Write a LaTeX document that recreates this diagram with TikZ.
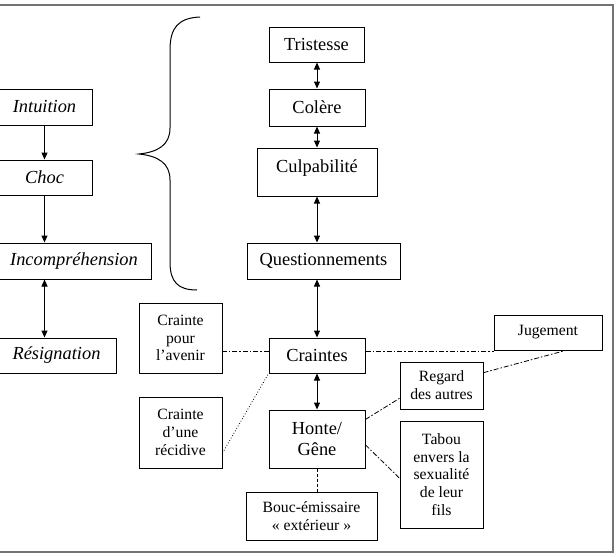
\documentclass[tikz,border=0pt]{standalone}
\usepackage{fontspec}
\setmainfont{Liberation Serif}
\usetikzlibrary{arrows.meta}

\begin{document}
\begin{tikzpicture}[x=1pt,y=-1pt,
  box/.style={draw,line width=1pt,inner sep=2pt,align=center,
    font=\fontsize{18.4}{21.7}\selectfont},
  stage/.style={box,font=\fontsize{18.4}{21.7}\selectfont\itshape},
  fear/.style={box,font=\fontsize{15.7}{17.8}\selectfont},
  link/.style={line width=1pt,<->,>={Triangle[length=7pt,width=6pt]}},
  relation/.style={line width=0.8pt,dash pattern=on 5pt off 2pt on 1.5pt off 2pt}]
  \useasboundingbox (0,0) rectangle (616,557);

  % Draw frame (open on the left)
  \draw [black!55,line width=1.6pt] (-5,5) -- (613,5) -- (613,552) -- (-5,552);

  % Draw left chain
  \node [stage,minimum width=95,minimum height=36] (intuition) at (44.5,107) {Intuition};
  \node [stage,minimum width=95,minimum height=35] (choc) at (44.5,177.5) {Choc};
  \node [stage,minimum width=154,minimum height=36] (incomp) at (74,261) {Incompréhension};
  \node [stage,minimum width=119,minimum height=35] (resig) at (56.5,355.5) {Résignation};

  \draw [line width=1pt,->,>={Triangle[length=7pt,width=6pt]}] (intuition) -- (choc);
  \draw [line width=1pt,->,>={Triangle[length=7pt,width=6pt]}] (choc.south) -- (choc.south |- incomp.north);
  \draw [link] (incomp.south -| choc.south) -- (resig.north -| choc.south);

  % Draw brace
  \draw [line width=1pt] (200,17) .. controls (178,18) and (170,28) .. (170,50)
    -- (170,128) .. controls (170,145) and (158,152) .. (139,154)
    .. controls (158,156) and (170,163) .. (170,180)
    -- (170,262) .. controls (170,282) and (178,290) .. (197,290);

  % Draw central column
  \node [box,minimum width=95,minimum height=35] (tristesse) at (316.5,44.5) {Tristesse};
  \node [box,minimum width=96,minimum height=37] (colere) at (317,107.5) {Colère};
  \node [box,minimum width=120,minimum height=48,text height=13pt,text depth=13pt] (culpa) at (317,172) {Culpabilité};
  \node [box,minimum width=153,minimum height=36] (quest) at (323.5,261) {Questionnements};
  \node [box,minimum width=96,minimum height=35] (craintes) at (317,355.5) {Craintes};
  \node [box,minimum width=96,minimum height=58] (honte) at (317,439) {Honte/\\Gêne};
  \node [fear,minimum width=131,minimum height=48] (bouc) at (311.5,516) {Bouc-émissaire\\«~extérieur~»};

  \draw [link] (tristesse.south -| colere.north) -- (colere.north);
  \draw [link] (colere) -- (culpa);
  \draw [link] (culpa.south) -- (culpa.south |- quest.north);
  \draw [link] (quest.south -| craintes.north) -- (craintes.north);
  \draw [link] (craintes) -- (honte);

  % Draw surrounding fears
  \node [fear,minimum width=83,minimum height=70] (cpour) at (180.5,338) {Crainte\\pour\\l’avenir};
  \node [fear,minimum width=83,minimum height=71] (crecid) at (180.5,432.5) {Crainte\\d’une\\récidive};
  \node [fear,minimum width=108,minimum height=35] (jugement) at (548,332.5) {Jugement};
  \node [fear,minimum width=83,minimum height=47] (regard) at (441.5,385.5) {Regard\\des autres};
  \node [fear,minimum width=83,minimum height=107] (tabou) at (441.5,474.5) {Tabou\\envers la\\sexualité\\de leur\\fils};

  % Draw and label relations
  \draw [relation] (craintes.175) -- (craintes.175 -| cpour.east);
  \draw [relation] (craintes.5) -- (craintes.5 -| jugement.west);
  \draw [line width=0.8pt,dotted] (crecid.-26) -- (craintes.south west);
  \draw [relation] (honte.22) -- (regard.197);
  \draw [relation] (regard.17) -- (jugement.-46);
  \draw [relation] (honte.-7) -- (tabou.185);
  \draw [line width=0.8pt,dash pattern=on 3pt off 2pt] (honte.south) -- (honte.south |- bouc.north);

\end{tikzpicture}
\end{document}
